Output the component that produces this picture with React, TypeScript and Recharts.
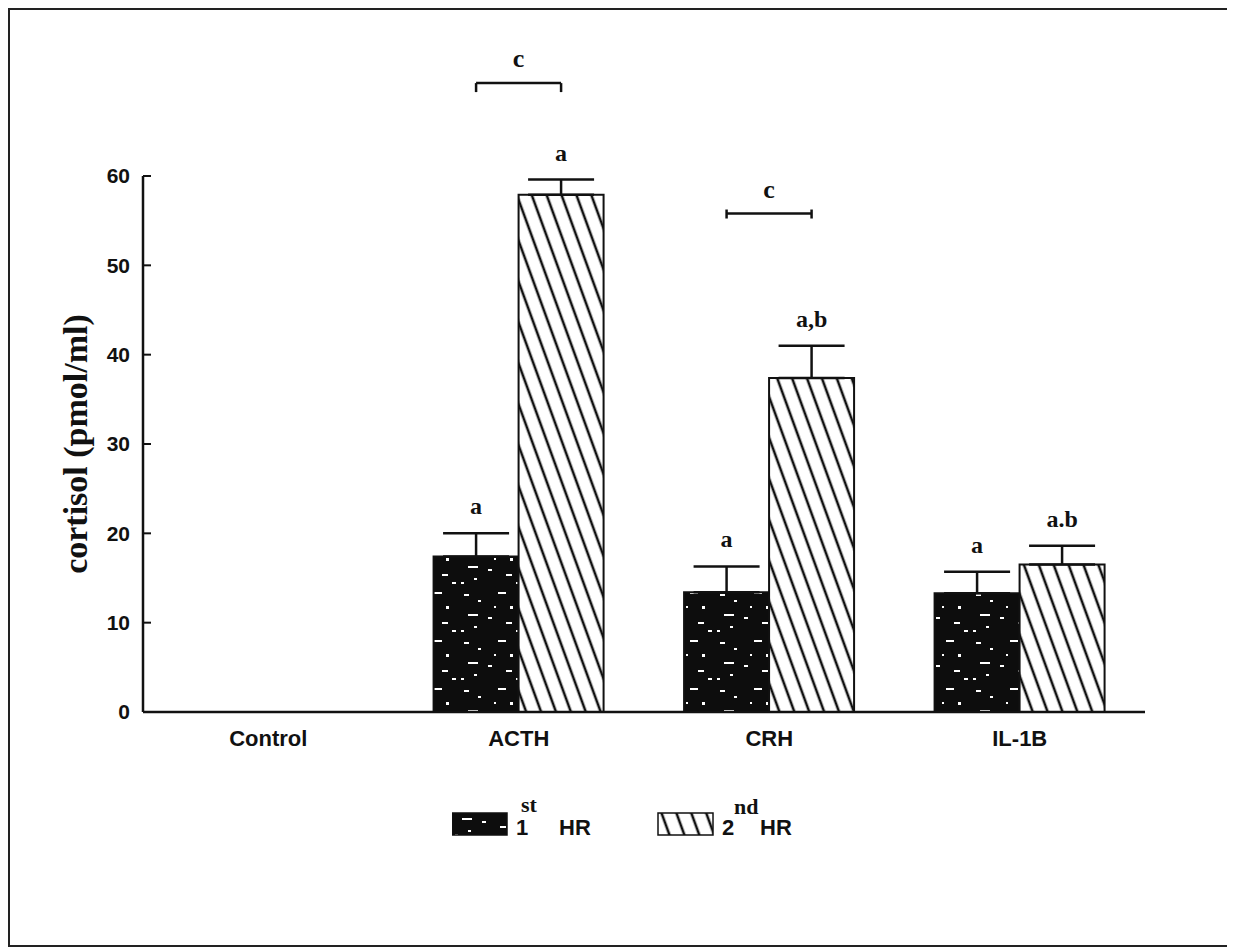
import { BarChart, Bar, XAxis, YAxis, ErrorBar, LabelList, Legend } from "recharts";

const categories = ["Control", "ACTH", "CRH", "IL-1B"];
const firstHr = [0, 17.4, 13.4, 13.3];
const firstHrErr = [0, 2.6, 2.9, 2.4];
const secondHr = [0, 57.9, 37.4, 16.5];
const secondHrErr = [0, 1.7, 3.6, 2.1];
const firstHrLetters = ["", "a", "a", "a"];
const secondHrLetters = ["", "a", "a,b", "a.b"];
const bracketLevel = [null, 70.4, 55.8, null];
const bracketTicks = ["", "down", "both", ""];
const bracketLetters = ["", "c", "c", ""];
const yTicks = [0, 10, 20, 30, 40, 50, 60];

const data = categories.map((name, i) => ({
  name,
  first: firstHr[i],
  second: secondHr[i],
  firstErr: [0, firstHrErr[i]],
  secondErr: [0, secondHrErr[i]],
}));

const serif = "'Liberation Serif', 'Times New Roman', serif";
const sans = "'Liberation Sans', Arial, sans-serif";

// letters above error bars (and the "c" bracket for the 2nd hour series)
const makeLabel =
  (values: number[], errs: number[], letters: string[], withBracket: boolean) =>
  (props: any) => {
    const vb = props.viewBox || {};
    const x = vb.x ?? props.x;
    const y = vb.y ?? props.y;
    const width = vb.width ?? props.width;
    const height = vb.height ?? props.height;
    const i = categories.indexOf(props.value);
    if (i < 0 || !values[i] || !height) return null;
    const h = Math.abs(height);
    const top = Math.min(y, y + height);
    const base = top + h;
    const perUnit = h / values[i];
    const cx = x + width / 2;
    const capY = base - (values[i] + errs[i]) * perUnit;
    const level = bracketLevel[i];
    const by = level != null ? base - level * perUnit : 0;
    return (
      <g>
        <text
          x={cx}
          y={capY - 19}
          textAnchor="middle"
          fontFamily={serif}
          fontWeight="bold"
          fontSize={24}
          fill="#111"
        >
          {letters[i]}
        </text>
        {withBracket && level != null && (
          <g stroke="#111" strokeWidth={2.5} fill="none">
            <line x1={cx - width} x2={cx} y1={by} y2={by} />
            {bracketTicks[i] === "down" ? (
              <>
                <line x1={cx - width} x2={cx - width} y1={by} y2={by + 9} />
                <line x1={cx} x2={cx} y1={by} y2={by + 9} />
              </>
            ) : (
              <>
                <line x1={cx - width} x2={cx - width} y1={by - 4} y2={by + 5} />
                <line x1={cx} x2={cx} y1={by - 4} y2={by + 5} />
              </>
            )}
            <text
              x={cx - width / 2}
              y={by - 16}
              textAnchor="middle"
              fontFamily={serif}
              fontWeight="bold"
              fontSize={26}
              fill="#111"
              stroke="none"
            >
              {bracketLetters[i]}
            </text>
          </g>
        )}
      </g>
    );
  };

const YLabel = (props: any) => {
  const vb = props.viewBox || {};
  const cx = vb.x + vb.width / 2 - 38;
  const cy = vb.y + vb.height / 2;
  return (
    <text
      x={cx}
      y={cy}
      transform={`rotate(-90, ${cx}, ${cy})`}
      textAnchor="middle"
      dominantBaseline="central"
      fontFamily={serif}
      fontWeight="bold"
      fontSize={34}
      fill="#111"
    >
      cortisol (pmol/ml)
    </text>
  );
};

const LegendBox = () => (
  <svg width={400} height={60} style={{ display: "block" }}>
    <rect x={0} y={23} width={55} height={22} fill="url(#speckle)" stroke="#111" strokeWidth={1.5} />
    <text x={64} y={45} fontFamily={sans} fontWeight="bold" fontSize={22} fill="#111">1</text>
    <text x={69} y={22} fontFamily={serif} fontWeight="bold" fontSize={22} fill="#111">st</text>
    <text x={107} y={45} fontFamily={sans} fontWeight="bold" fontSize={22} fill="#111">HR</text>
    <rect x={206} y={23} width={55} height={22} fill="url(#hatch)" stroke="#111" strokeWidth={1.5} />
    <text x={270} y={45} fontFamily={sans} fontWeight="bold" fontSize={22} fill="#111">2</text>
    <text x={282} y={24} fontFamily={serif} fontWeight="bold" fontSize={22} fill="#111">nd</text>
    <text x={308} y={45} fontFamily={sans} fontWeight="bold" fontSize={22} fill="#111">HR</text>
  </svg>
);

export default function App() {
  return (
    <div
      style={{
        width: 1223,
        height: 939,
        boxSizing: "border-box",
        border: "2px solid #222",
        background: "#fff",
        position: "relative",
      }}
    >
      <BarChart
        width={1219}
        height={935}
        data={data}
        margin={{ top: 166, right: 84, left: 73, bottom: 193 }}
        barGap={0}
        barCategoryGap="16%"
      >
        <defs>
          <pattern id="hatch" patternUnits="userSpaceOnUse" width={14} height={14} patternTransform="rotate(-20)">
            <rect width={14} height={14} fill="#fff" />
            <line x1={7} y1={0} x2={7} y2={14} stroke="#111" strokeWidth={2.6} />
          </pattern>
          <pattern id="speckle" patternUnits="userSpaceOnUse" width={64} height={48}>
            <rect width={64} height={48} fill="#0d0d0d" />
            <rect x={6} y={8} width={5} height={2} fill="#fff" />
            <rect x={20} y={14} width={3} height={2} fill="#fff" />
            <rect x={40} y={6} width={8} height={2} fill="#fff" />
            <rect x={52} y={20} width={3} height={3} fill="#fff" />
            <rect x={10} y={28} width={10} height={2} fill="#fff" />
            <rect x={30} y={31} width={4} height={2} fill="#fff" />
            <rect x={48} y={36} width={6} height={2} fill="#fff" />
            <rect x={16} y={40} width={3} height={2} fill="#fff" />
            <rect x={58} y={44} width={4} height={2} fill="#fff" />
            <rect x={36} y={20} width={2} height={2} fill="#fff" />
            <rect x={3} y={44} width={3} height={2} fill="#fff" />
          </pattern>
        </defs>
        <XAxis
          dataKey="name"
          axisLine={{ stroke: "#111", strokeWidth: 2.5 }}
          tickLine={false}
          tickSize={0}
          tickMargin={18}
          height={40}
          tick={{ fontFamily: sans, fontWeight: "bold", fontSize: 22, fill: "#111" }}
        />
        <YAxis
          domain={[0, 60]}
          ticks={yTicks}
          width={60}
          axisLine={{ stroke: "#111", strokeWidth: 2.5 }}
          tickLine={{ stroke: "#111", strokeWidth: 2 }}
          tickSize={-8}
          tickMargin={21}
          tick={{ fontFamily: sans, fontWeight: "bold", fontSize: 21, fill: "#111" }}
          label={{ content: YLabel }}
        />
        <Legend
          layout="horizontal"
          verticalAlign="middle"
          align="center"
          wrapperStyle={{ top: 780, left: 442, width: 400, height: 60 }}
          content={() => <LegendBox />}
        />
        <Bar dataKey="first" fill="url(#speckle)" stroke="#111" strokeWidth={2} isAnimationActive={false}>
          <ErrorBar dataKey="firstErr" direction="y" width={33} stroke="#111" strokeWidth={2.5} />
          <LabelList dataKey="name" content={makeLabel(firstHr, firstHrErr, firstHrLetters, false)} />
        </Bar>
        <Bar dataKey="second" fill="url(#hatch)" stroke="#111" strokeWidth={2} isAnimationActive={false}>
          <ErrorBar dataKey="secondErr" direction="y" width={33} stroke="#111" strokeWidth={2.5} />
          <LabelList dataKey="name" content={makeLabel(secondHr, secondHrErr, secondHrLetters, true)} />
        </Bar>
      </BarChart>
    </div>
  );
}
